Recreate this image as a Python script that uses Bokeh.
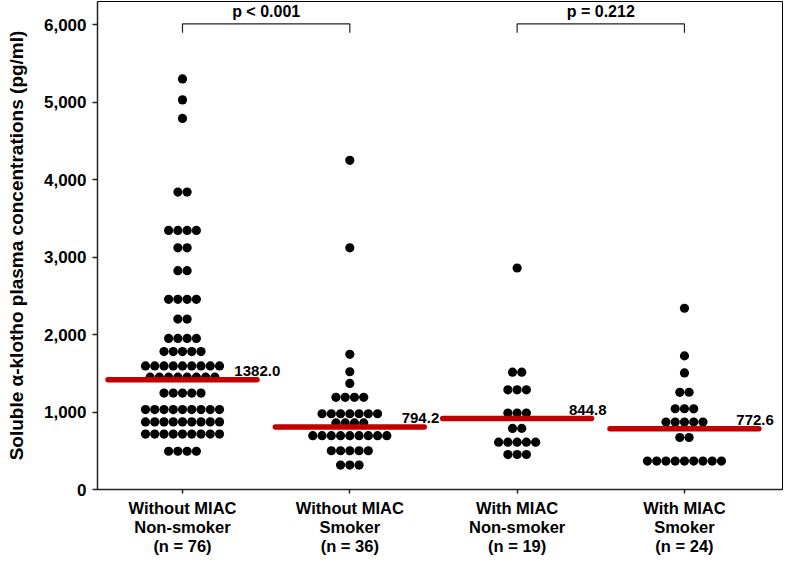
from collections import Counter

from bokeh.plotting import figure
from bokeh.models import Range1d, FixedTicker, NumeralTickFormatter, ColumnDataSource, Label
from bokeh.embed import file_html
from bokeh.resources import INLINE

# ---------------- data ----------------
categories = [
    "Without MIAC\nNon-smoker\n(n = 76)",
    "Without MIAC\nSmoker\n(n = 36)",
    "With MIAC\nNon-smoker\n(n = 19)",
    "With MIAC\nSmoker\n(n = 24)",
]
group_pos = [1, 2, 3, 4]

g1_values = ([5300, 5030, 4790] + [3840] * 2 + [3345] * 4 + [3120] * 2 + [2825] * 2
             + [2455] * 4 + [2200] * 2 + [1950] * 4 + [1780] * 5 + [1595] * 9
             + [1450] * 8 + [1245] * 5 + [1032] * 9 + [873] * 9 + [715] * 9 + [494] * 4)
g2_values = ([4250, 3120, 1745, 1520, 1370] + [1190] * 4 + [978] * 7 + [860] * 4
             + [695] * 9 + [500] * 5 + [315] * 3)
g3_values = ([2860] + [1515] * 2 + [1287] * 3 + [987] * 3 + [789] * 2 + [611] * 5 + [452] * 3)
g4_values = ([2340, 1725, 1505] + [1255] * 2 + [1042] * 3 + [870] * 5 + [671] * 2 + [367] * 9)
groups = [g1_values, g2_values, g3_values, g4_values]

median_line = [1418, 806, 915, 785]
median_labels = ["1382.0", "794.2", "844.8", "772.6"]

comparisons = [(1, 2), (3, 4)]
p_labels = ["p < 0.001", "p = 0.212"]

y_ticks = [0, 1000, 2000, 3000, 4000, 5000, 6000]
y_title = "Soluble \u03b1-klotho plasma concentrations (pg/ml)"

# ---------------- style ----------------
FONT = "Liberation Sans"
DOT_STEP = 0.0553      # horizontal spacing between dots in a row (x units)
HALF_LINE = 0.445      # half width of median line
LABEL_DX = 0.31        # median label offset
BRACKET_Y = 6010
BRACKET_DROP = 115
RED = "#C00000"

p = figure(width=784, height=557, output_backend="svg", toolbar_location=None,
           x_range=Range1d(0.492, 4.586), y_range=Range1d(0, 6300),
           min_border_left=97, min_border_right=2, min_border_top=1, min_border_bottom=10)
p.background_fill_color = "white"
p.border_fill_color = "white"
p.outline_line_color = "black"
p.outline_line_width = 1
p.grid.visible = False

# axes
p.xaxis.ticker = FixedTicker(ticks=group_pos)
p.xaxis.major_label_overrides = {pos: lab for pos, lab in zip(group_pos, categories)}
p.yaxis.ticker = FixedTicker(ticks=y_ticks)
p.yaxis.formatter = NumeralTickFormatter(format="0,0")
for ax in (p.xaxis, p.yaxis):
    ax.axis_line_color = "#222222"
    ax.axis_line_width = 1.5
    ax.major_tick_line_color = "#222222"
    ax.major_tick_line_width = 1.5
    ax.major_tick_in = 0
    ax.minor_tick_line_color = None
    ax.major_label_text_font = FONT
    ax.major_label_text_font_style = "bold"
    ax.major_label_text_color = "black"
p.xaxis.major_tick_out = 4
p.xaxis.major_label_standoff = 5
p.xaxis.major_label_text_font_size = "16.5px"
p.xaxis.major_label_text_line_height = 1.06
p.yaxis.major_tick_out = 5
p.yaxis.major_label_standoff = 6
p.yaxis.major_label_text_font_size = "17px"
p.yaxis.axis_label = y_title
p.yaxis.axis_label_text_font = FONT
p.yaxis.axis_label_text_font_style = "bold"
p.yaxis.axis_label_text_font_size = "19px"
p.yaxis.axis_label_text_color = "black"
p.yaxis.axis_label_standoff = 14

# dots (beeswarm rows of equal values)
xs, ys = [], []
for pos, vals in zip(group_pos, groups):
    counts = Counter(vals)
    for v, k in counts.items():
        for j in range(k):
            xs.append(pos + (j - (k - 1) / 2) * DOT_STEP)
            ys.append(v)
p.scatter(x="x", y="y", source=ColumnDataSource(dict(x=xs, y=ys)),
          size=9.2, color="black", line_width=0)

# median lines
p.segment(x0=[g - HALF_LINE for g in group_pos], x1=[g + HALF_LINE for g in group_pos],
          y0=median_line, y1=median_line, line_color=RED, line_width=5.5, line_cap="round")

for g, yv, lab in zip(group_pos, median_line, median_labels):
    p.add_layout(Label(x=g + LABEL_DX, y=yv, text=lab, text_align="left",
                       text_baseline="bottom", y_offset=4, text_font=FONT,
                       text_font_style="bold", text_font_size="15px", text_color="black"))

# significance brackets
for (a, b), lab in zip(comparisons, p_labels):
    p.line(x=[a, a, b, b], y=[BRACKET_Y - BRACKET_DROP, BRACKET_Y, BRACKET_Y, BRACKET_Y - BRACKET_DROP],
           line_color="#222222", line_width=1.2)
    p.add_layout(Label(x=(a + b) / 2, y=BRACKET_Y, text=lab, text_align="center",
                       text_baseline="bottom", y_offset=4, text_font=FONT,
                       text_font_style="bold", text_font_size="16px", text_color="black"))

open("out.html", "w").write(file_html(p, INLINE))
